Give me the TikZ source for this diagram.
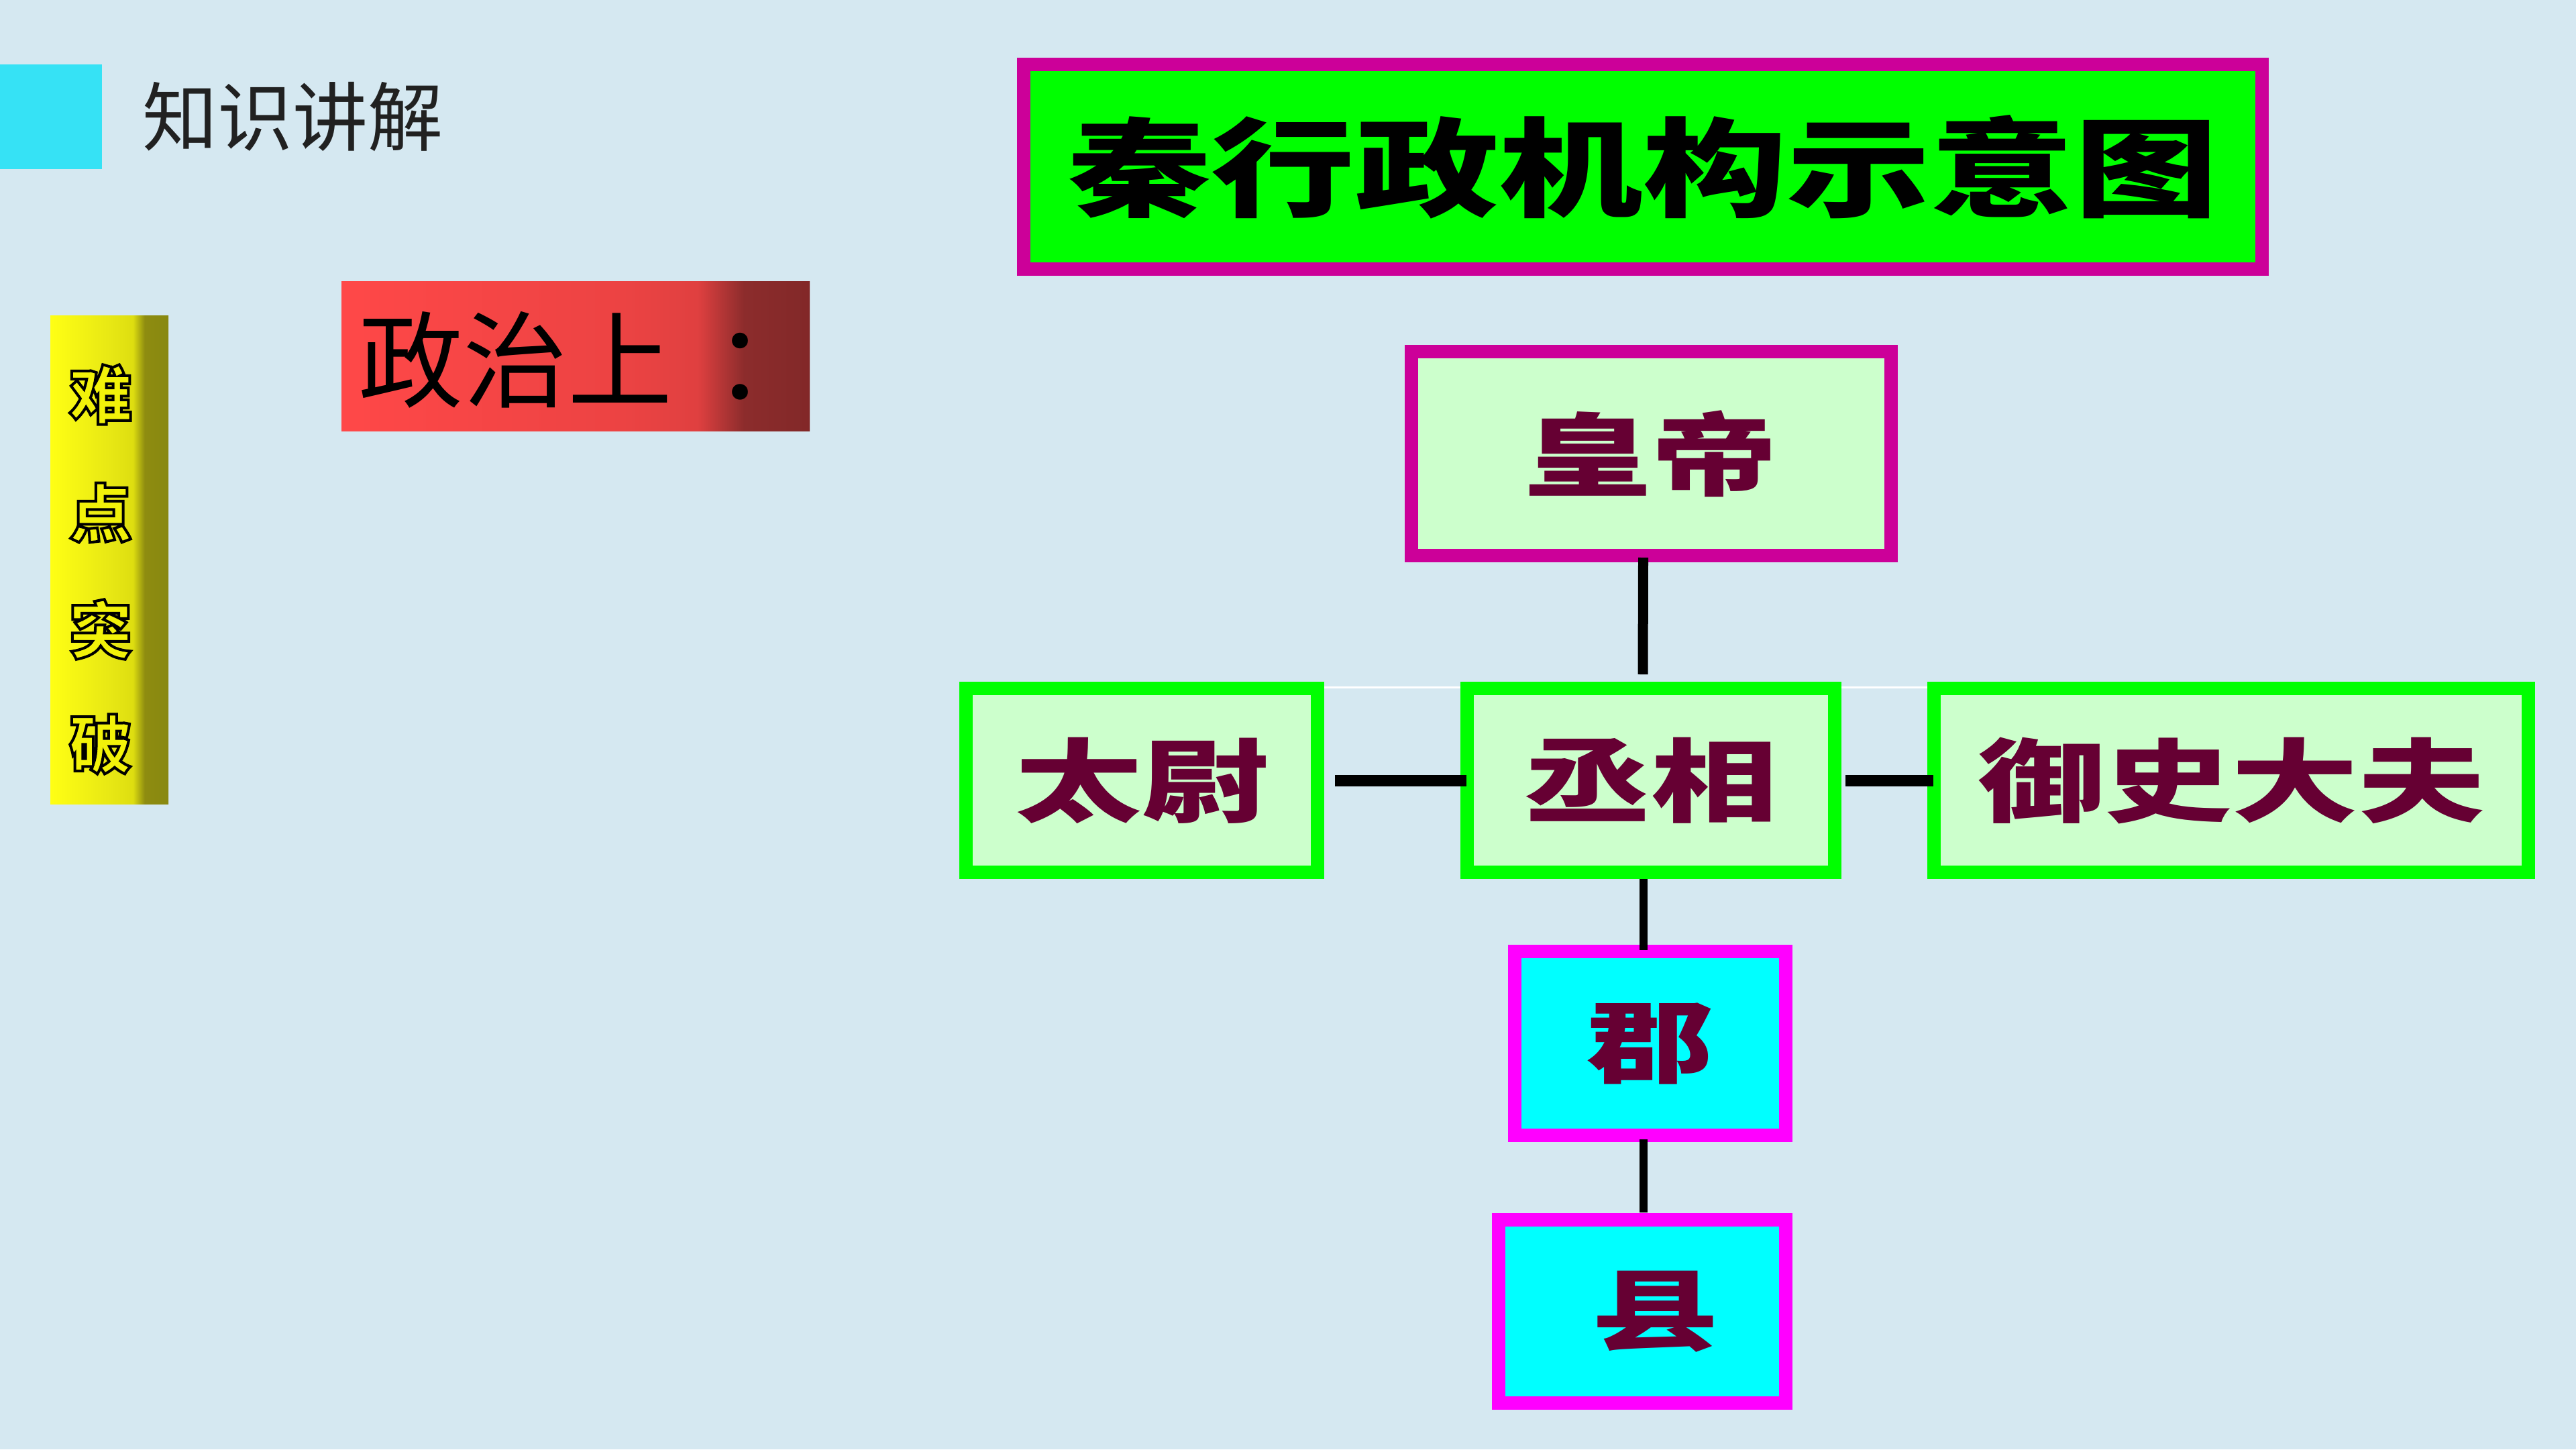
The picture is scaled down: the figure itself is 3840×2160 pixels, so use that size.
\documentclass[tikz,border=0pt]{standalone}
\usepackage{fontspec}
\newfontfamily\cjk{Noto Sans CJK SC}
\definecolor{bgc}{HTML}{D5E8F1}
\definecolor{cyansq}{HTML}{36E2F5}
\definecolor{magA}{HTML}{CC0099}
\definecolor{magB}{HTML}{FF00FF}
\definecolor{lgreen}{HTML}{CCFFCC}
\definecolor{brgreen}{HTML}{00FF00}
\definecolor{cyanf}{HTML}{00FFFF}
\definecolor{maroon}{HTML}{660033}
\definecolor{redA}{HTML}{FF4848}
\definecolor{redB}{HTML}{EC4343}
\definecolor{redC}{HTML}{E04040}
\definecolor{redD}{HTML}{8C2C2C}
\definecolor{redE}{HTML}{822828}
\definecolor{yelA}{HTML}{FFFF14}
\definecolor{yelB}{HTML}{E8E814}
\definecolor{yelC}{HTML}{DEDE10}
\definecolor{yelD}{HTML}{8E8C10}
\definecolor{yelE}{HTML}{888810}
\definecolor{yeltxt}{HTML}{F2F20A}
\pgfdeclarehorizontalshading{redsh}{100bp}{color(0bp)=(redA); color(25bp)=(redA); color(55bp)=(redB); color(63bp)=(redC); color(68bp)=(redD); color(75bp)=(redE); color(100bp)=(redE)}
\pgfdeclarehorizontalshading{yelsh}{100bp}{color(0bp)=(yelA); color(25bp)=(yelA); color(50bp)=(yelB); color(60bp)=(yelC); color(65bp)=(yelD); color(75bp)=(yelE); color(100bp)=(yelE)}
\pgfdeclarelayer{back}
\pgfsetlayers{back,main}
\newcommand{\outlinechar}[1]{\textcolor{yeltxt}{\special{pdf:literal direct 0 0 0 RG 2 Tr 4 w}#1\special{pdf:literal direct 0 Tr}}}
\tikzset{
  box/.style={rectangle, inner sep=0pt, line width=20pt, text=maroon,
    font=\cjk\bfseries\fontsize{135pt}{140pt}\selectfont},
  topbox/.style={box, draw=magA, fill=lgreen},
  midbox/.style={box, draw=brgreen, fill=lgreen},
  lowbox/.style={box, draw=magB, fill=cyanf},
  link/.style={line width=15pt, black},
  hairline/.style={line width=3pt, white},
  sidechar/.style={inner sep=0pt, font=\cjk\bfseries\fontsize{94pt}{98pt}\selectfont},
}
\begin{document}
\begin{tikzpicture}[x=1pt,y=-1pt]
\begin{pgfonlayer}{back}
\fill[bgc] (0,0) rectangle (3840,2160);
\end{pgfonlayer}
\useasboundingbox (0,0) rectangle (3840,2160);
% header
\fill[cyansq] (0,96) rectangle (152,252);
\node[anchor=west, inner sep=0pt, text=black!87, font=\cjk\fontsize{112pt}{120pt}\selectfont] (hdr) at (212,174) {知识讲解};
% yellow bar
\shade[shading=yelsh] (75,470) rectangle (251,1198);
\node[sidechar] (n1) at (150,588) {\outlinechar{难}};
\node[sidechar] (n2) at (150,764) {\outlinechar{点}};
\node[sidechar] (n3) at (150,938) {\outlinechar{突}};
\node[sidechar] (n4) at (150,1109) {\outlinechar{破}};
% red box
\shade[shading=redsh] (509,419) rectangle (1207,642);
\node[anchor=west, inner sep=0pt, text=black, font=\cjk\fontsize{156pt}{160pt}\selectfont] (pol) at (534,536) {政治上\hspace{62pt}：};
% title
\node[rectangle, inner sep=0pt, line width=20pt, draw=magA, fill=brgreen, minimum width=1846pt, minimum height=305pt,
  font=\cjk\bfseries\fontsize{160pt}{165pt}\selectfont, text=black] (title) at (2449,248.5) {\scalebox{1.34}[1]{秦行政机构示意图}};
% chart
\node[topbox, minimum width=715pt, minimum height=304pt] (hd) at (2461.5,676) {\scalebox{1.4}[1]{皇帝}};
\node[midbox, minimum width=524pt, minimum height=274pt] (tw) at (1702,1163) {\scalebox{1.4}[1]{太尉}};
\node[midbox, minimum width=548pt, minimum height=274pt] (cx) at (2461,1163) {\scalebox{1.4}[1]{丞相}};
\node[midbox, minimum width=886pt, minimum height=274pt] (ys) at (3326,1163) {\scalebox{1.4}[1]{御史大夫}};
\node[lowbox, minimum width=404pt, minimum height=274pt] (jun) at (2460,1555) {\scalebox{1.4}[1]{郡}};
\node[lowbox, minimum width=428pt, minimum height=273pt] (xian) at (2448,1954.5) {\hspace*{40pt}\scalebox{1.4}[1]{县}};
\begin{pgfonlayer}{back}
\draw[hairline] ([yshift=-8pt]tw.north east) -- ([yshift=-8pt]ys.north west);
\end{pgfonlayer}
\draw[link] ([xshift=-12pt,yshift=7pt]hd.south) -- ([xshift=-12pt,yshift=11pt]cx.north);
\draw[link, line width=17pt] ([xshift=16pt]tw.east) -- ([xshift=9pt]cx.west);
\draw[link, line width=17pt] ([xshift=6pt]cx.east) -- ([xshift=9pt]ys.west);
\draw[link, line width=12pt] ([xshift=-11pt]cx.south) -- ([xshift=-10pt,yshift=-8pt]jun.north);
\draw[link, line width=12pt] ([xshift=-10pt,yshift=4pt]jun.south) -- ([xshift=2pt,yshift=1pt]xian.north);
\end{tikzpicture}
\end{document}
